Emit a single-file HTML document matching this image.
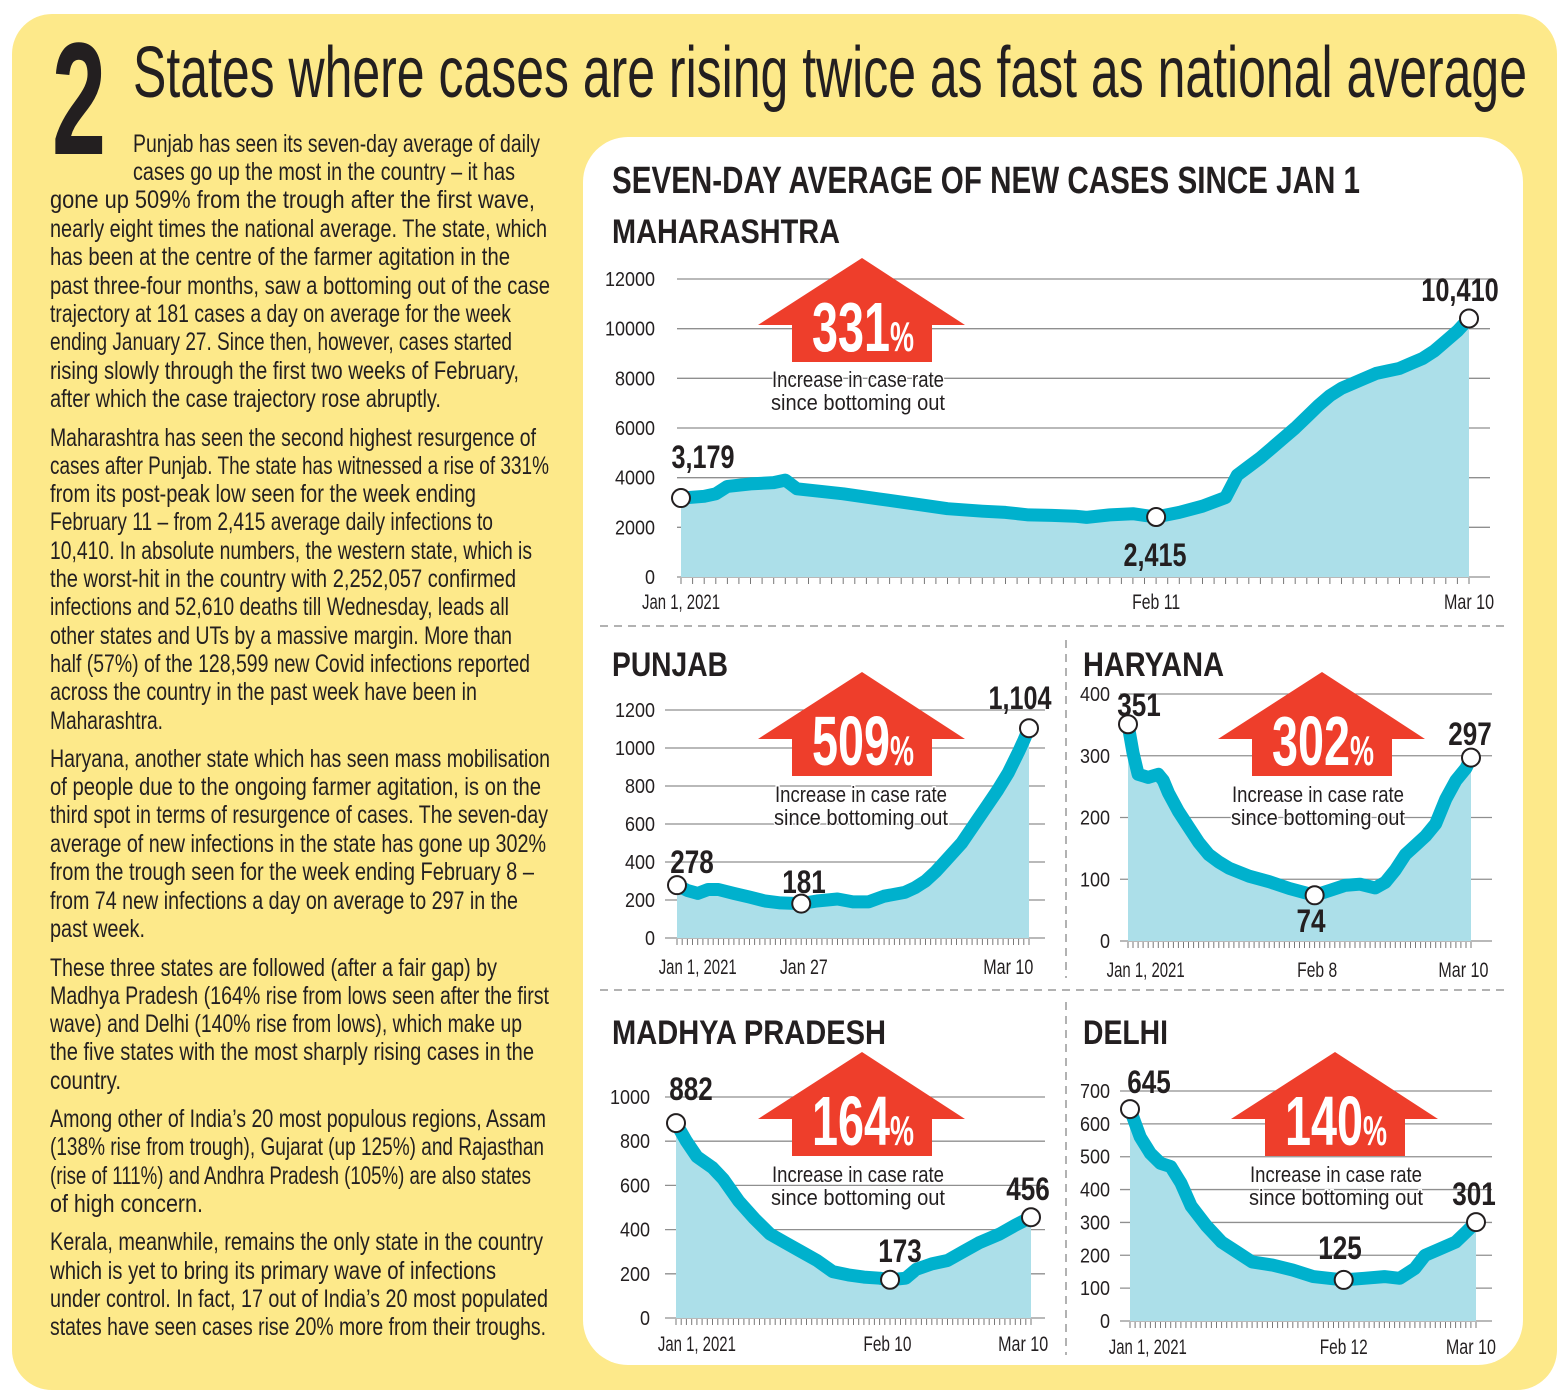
<!DOCTYPE html>
<html><head><meta charset="utf-8"><style>
html,body{margin:0;padding:0;background:#fff}
svg{display:block}
text{font-family:"Liberation Sans",sans-serif}
</style></head><body>
<svg id="root" width="1567" height="1392" viewBox="0 0 1567 1392" xmlns="http://www.w3.org/2000/svg">
<rect x="12" y="14" width="1545" height="1376" rx="40" fill="#fde98a"/>
<text x="52" y="154" font-size="160" font-weight="bold" fill="#231f20" textLength="54" lengthAdjust="spacingAndGlyphs">2</text>
<text x="133" y="97" font-size="72" fill="#231f20" textLength="1394" lengthAdjust="spacingAndGlyphs">States where cases are rising twice as fast as national average</text>
<g id="body" fill="#231f20" font-size="25"></g>
<rect x="583" y="137" width="940" height="1228" rx="45" fill="#fff"/>
<text x="612" y="193" font-size="38" font-weight="bold" fill="#231f20" textLength="748" lengthAdjust="spacingAndGlyphs">SEVEN-DAY AVERAGE OF NEW CASES SINCE JAN 1</text>
<g stroke="#999" stroke-width="1.5" stroke-dasharray="8,6" fill="none">
<line x1="600" y1="626" x2="1510" y2="626"/><line x1="600" y1="990" x2="1510" y2="990"/>
<line x1="1066" y1="640" x2="1066" y2="978"/><line x1="1066" y1="1002" x2="1066" y2="1355"/>
</g>
<g id="charts"></g>
</svg>
<script>
// ---------- chart data ----------
const mhDays=[0,2,3,4,6,8,9,10,12,14,17,20,23,26,28,30,32,34,35,37,39,41,43,45,47,48,49,50,51,52,53,54,55,56,57,58,59,60,61,62,63,64,65,66,67,68];
const mhVals=[3179,3250,3350,3650,3750,3800,3900,3550,3450,3350,3150,2950,2750,2650,2600,2500,2480,2450,2400,2500,2550,2415,2600,2850,3200,4100,4450,4800,5200,5600,6000,6450,6900,7300,7600,7800,8000,8200,8300,8400,8600,8800,9100,9500,9900,10410];
const mhTicks=[0,2000,4000,6000,8000,10000,12000];
const pbDays=[0,2,4,6,8,11,14,17,20,24,27,31,34,37,40,44,46,48,50,52,55,58,60,62,64,66,67,68];
const pbVals=[278,250,235,255,255,235,215,195,185,181,195,205,190,190,220,240,265,300,350,410,500,620,700,780,870,980,1040,1104];
const pbTicks=[0,200,400,600,800,1000,1200];
const hrDays=[0,1,2,4,6,7,8,10,12,14,16,18,20,24,28,32,37,40,43,46,49,51,53,55,57,59,61,63,65,67,68];
const hrVals=[351,305,270,265,270,260,240,210,185,160,140,128,118,105,96,85,74,82,90,92,86,95,115,140,155,170,190,230,260,280,297];
const hrTicks=[0,100,200,300,400];
const mpDays=[0,2,4,7,9,12,15,18,21,24,27,30,33,36,39,41,44,46,49,52,55,58,62,65,68];
const mpVals=[882,800,730,680,630,530,450,380,340,300,260,210,195,185,180,173,180,220,245,260,300,340,380,420,456];
const mpTicks=[0,200,400,600,800,1000];
const dlDays=[0,2,4,6,8,10,12,15,18,21,24,28,32,36,42,46,50,53,56,58,61,64,66,68];
const dlVals=[645,560,510,480,470,420,350,290,240,210,180,170,155,135,125,130,135,130,160,200,220,240,270,301];
const dlTicks=[0,100,200,300,400,500,600,700];
const pcts=[331,509,302,164,140];

const NS="http://www.w3.org/2000/svg";
function mk(tag,attrs,parent){const e=document.createElementNS(NS,tag);for(const k in attrs)e.setAttribute(k,attrs[k]);if(parent)parent.appendChild(e);return e;}
function fmt(v){return v.toLocaleString('en-US');}

// ---------- body text ----------
const bodyLines=[
[133,152,407,"Punjab has seen its seven-day average of daily"],
[133,180,382,"cases go up the most in the country – it has"],
[50,208,485,"gone up 509% from the trough after the first wave,"],
[50,237,497,"nearly eight times the national average. The state, which"],
[50,265,460,"has been at the centre of the farmer agitation in the"],
[50,294,500,"past three-four months, saw a bottoming out of the case"],
[50,322,461,"trajectory at 181 cases a day on average for the week"],
[50,350,462,"ending January 27. Since then, however, cases started"],
[50,379,469,"rising slowly through the first two weeks of February,"],
[50,407,391,"after which the case trajectory rose abruptly."],
[50,446,486,"Maharashtra has seen the second highest resurgence of"],
[50,474,499,"cases after Punjab. The state has witnessed a rise of 331%"],
[50,502,426,"from its post-peak low seen for the week ending"],
[50,530,443,"February 11 – from 2,415 average daily infections to"],
[50,559,482,"10,410. In absolute numbers, the western state, which is"],
[50,587,466,"the worst-hit in the country with 2,252,057 confirmed"],
[50,615,459,"infections and 52,610 deaths till Wednesday, leads all"],
[50,644,462,"other states and UTs by a massive margin. More than"],
[50,672,480,"half (57%) of the 128,599 new Covid infections reported"],
[50,700,427,"across the country in the past week have been in"],
[50,729,113,"Maharashtra."],
[50,767,500,"Haryana, another state which has seen mass mobilisation"],
[50,795,491,"of people due to the ongoing farmer agitation, is on the"],
[50,823,498,"third spot in terms of resurgence of cases. The seven-day"],
[50,852,496,"average of new infections in the state has gone up 302%"],
[50,880,484,"from the trough seen for the week ending February 8 –"],
[50,909,468,"from 74 new infections a day on average to 297 in the"],
[50,937,95,"past week."],
[50,976,447,"These three states are followed (after a fair gap) by"],
[50,1004,499,"Madhya Pradesh (164% rise from lows seen after the first"],
[50,1032,472,"wave) and Delhi (140% rise from lows), which make up"],
[50,1060,484,"the five states with the most sharply rising cases in the"],
[50,1089,71,"country."],
[50,1127,496,"Among other of India’s 20 most populous regions, Assam"],
[50,1155,494,"(138% rise from trough), Gujarat (up 125%) and Rajasthan"],
[50,1184,481,"(rise of 111%) and Andhra Pradesh (105%) are also states"],
[50,1212,153,"of high concern."],
[50,1250,493,"Kerala, meanwhile, remains the only state in the country"],
[50,1279,446,"which is yet to bring its primary wave of infections"],
[50,1307,498,"under control. In fact, 17 out of India’s 20 most populated"],
[50,1335,496,"states have seen cases rise 20% more from their troughs."]];
const body=document.getElementById('body');
bodyLines.forEach(l=>{const t=mk('text',{x:l[0],y:l[1],textLength:l[2],lengthAdjust:'spacingAndGlyphs'},body);


t.textContent=l[3];});

// ---------- charts ----------
const charts=[
{name:'maharashtra',title:'MAHARASHTRA',tx:612,ty:243,tw:228,days:mhDays,vals:mhVals,ticks:mhTicks,x0:681,x1:1469,y0:577,yTop:279,gx0:677,gx1:1490,lx:655,
 xl:[[0,'Jan 1, 2021',78],[41,'Feb 11',48],[68,'Mar 10',50]],xly:609,
 marks:[[0,703,468],[41,1155,566],[-1,1460,301]],pct:0,ax:862,ay:258,cap:[858,387,410]},
{name:'punjab',title:'PUNJAB',tx:612,ty:676,tw:116,days:pbDays,vals:pbVals,ticks:pbTicks,x0:677,x1:1029,y0:938,yTop:710,gx0:665,gx1:1045,lx:655,
 xl:[[4,'Jan 1, 2021',78],[24.5,'Jan 27',48],[64,'Mar 10',50]],xly:974,
 marks:[[0,692,873],[24,804,893],[-1,1020,709]],pct:1,ax:862,ay:672,cap:[861,802,825]},
{name:'haryana',title:'HARYANA',tx:1083,ty:676,tw:141,days:hrDays,vals:hrVals,ticks:hrTicks,x0:1128,x1:1471,y0:941,yTop:694,gx0:1120,gx1:1492,lx:1110,
 xl:[[3.5,'Jan 1, 2021',78],[37.5,'Feb 8',40],[66.5,'Mar 10',50]],xly:977,
 marks:[[0,1139,716],[37,1311,932],[-1,1470,745]],pct:2,ax:1322,ay:672,cap:[1318,802,825]},
{name:'madhya-pradesh',title:'MADHYA PRADESH',tx:612,ty:1044,tw:274,days:mpDays,vals:mpVals,ticks:mpTicks,x0:676,x1:1031,y0:1318,yTop:1097,gx0:665,gx1:1045,lx:650,
 xl:[[4,'Jan 1, 2021',78],[40.5,'Feb 10',48],[66.5,'Mar 10',50]],xly:1351,
 marks:[[0,691,1100],[41,900,1262],[-1,1028,1200]],pct:3,ax:862,ay:1052,cap:[858,1182,1205]},
{name:'delhi',title:'DELHI',tx:1083,ty:1044,tw:85,days:dlDays,vals:dlVals,ticks:dlTicks,x0:1130,x1:1476,y0:1321,yTop:1091,gx0:1120,gx1:1492,lx:1110,
 xl:[[3.5,'Jan 1, 2021',78],[42,'Feb 12',48],[67,'Mar 10',50]],xly:1354,
 marks:[[0,1149,1093],[42,1340,1259],[-1,1474,1205]],pct:4,ax:1335,ay:1052,cap:[1336,1182,1205]}];

const root=document.getElementById('charts');
charts.forEach(c=>{
 const g=mk('g',{},root);
 
 
 const vmax=c.ticks[c.ticks.length-1];
 const X=d=>c.x0+(c.x1-c.x0)*d/68;
 const Y=v=>c.y0-(c.y0-c.yTop)*v/vmax;
 const tt=mk('text',{x:c.tx,y:c.ty,'font-size':34,'font-weight':'bold',fill:'#231f20',textLength:c.tw,lengthAdjust:'spacingAndGlyphs'},g);
 
 
 tt.textContent=c.title;
 c.ticks.forEach(t=>{
  const ln=mk('line',{x1:c.gx0,x2:c.gx1,y1:Y(t),y2:Y(t),stroke:'#8f8f8f','stroke-width':1.3},g);
  
  
  const tl=mk('text',{x:c.lx,y:Y(t)+7,'font-size':20,'text-anchor':'end',fill:'#231f20',textLength:String(t).length*10,lengthAdjust:'spacingAndGlyphs'},g);
  
  
  tl.textContent=t;
 });
 let pts=c.days.map((d,i)=>X(d).toFixed(1)+','+Y(c.vals[i]).toFixed(1));
 const last=c.days[c.days.length-1];
 const area=mk('polygon',{points:X(0)+','+c.y0+' '+pts.join(' ')+' '+X(last)+','+c.y0,fill:'#acdfe9'},g);
 
 
 let tp='';for(let d=0;d<=68;d++){tp+='M'+X(d).toFixed(1)+' '+(c.y0+1)+'v6';}
 const tk=mk('path',{d:tp,stroke:'#777','stroke-width':1},g);
 
 
 const line=mk('polyline',{points:pts.join(' '),fill:'none',stroke:'#00b1cd','stroke-width':13,'stroke-linejoin':'round','stroke-linecap':'round'},g);
 
 
 c.xl.forEach(l=>{
  const t=mk('text',{x:X(l[0]),y:c.xly,'font-size':21,'text-anchor':'middle',fill:'#231f20',textLength:l[2],lengthAdjust:'spacingAndGlyphs'},g);
  
  
  t.textContent=l[1];
 });
 c.marks.forEach(m=>{
  const i=m[0]<0?c.days.length-1:c.days.indexOf(m[0]);
  const cx=X(c.days[i]),cy=Y(c.vals[i]);
  const ci=mk('circle',{cx:cx,cy:cy,r:9,fill:'#fff',stroke:'#231f20','stroke-width':2},g);
  
  
  const s=fmt(c.vals[i]);
  const w=s.replace(/,/g,'').length*14.5+(s.split(',').length-1)*5;
  const lt=mk('text',{x:m[1],y:m[2],'font-size':32,'font-weight':'bold','text-anchor':'middle',fill:'#231f20',textLength:w,lengthAdjust:'spacingAndGlyphs'},g);
  
  
  lt.textContent=s;
 });
 const a=mk('g',{},g);
 
 
 const ax=c.ax,ay=c.ay;
 mk('polygon',{points:`${ax},${ay} ${ax+103},${ay+67} ${ax+70},${ay+67} ${ax+70},${ay+104} ${ax-70},${ay+104} ${ax-70},${ay+67} ${ax-104},${ay+67}`,fill:'#ee3e2b'},a);
 const pt=mk('text',{x:ax-50,y:ay+93,fill:'#fff','font-weight':'bold','font-size':70},a);
 
 
 const ts1=mk('tspan',{textLength:78,lengthAdjust:'spacingAndGlyphs'},pt);ts1.textContent=pcts[c.pct];
 const ts2=mk('tspan',{'font-size':42,textLength:24,lengthAdjust:'spacingAndGlyphs'},pt);ts2.textContent='%';
 [['Increase in case rate',c.cap[1],172],['since bottoming out',c.cap[2],174]].forEach(r=>{
  const t=mk('text',{x:c.cap[0],y:r[1],'font-size':22,'text-anchor':'middle',fill:'#231f20',textLength:r[2],lengthAdjust:'spacingAndGlyphs',stroke:'#fff','stroke-width':3,'paint-order':'stroke'},a);
  
  
  t.textContent=r[0];
 });
});
</script>
</body></html>
